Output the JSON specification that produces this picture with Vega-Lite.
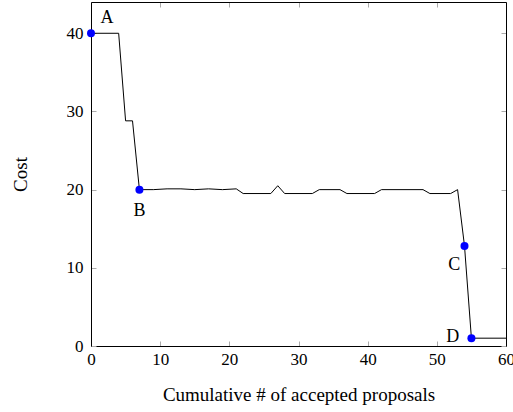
{
  "$schema": "https://vega.github.io/schema/vega-lite/v6.json",
  "width": 415,
  "height": 344,
  "autosize": {"type": "none"},
  "padding": {"left": 91, "top": 2, "right": 7, "bottom": 66},
  "background": "white",
  "config": {
    "view": {"stroke": null},
    "font": "Liberation Serif",
    "text": {"font": "Liberation Serif"},
    "axis": {
      "labelFont": "Liberation Serif",
      "titleFont": "Liberation Serif",
      "labelFontSize": 17,
      "titleFontSize": 19,
      "labelColor": "black",
      "titleColor": "black",
      "titleFontWeight": "normal",
      "domainColor": "black",
      "domainWidth": 1,
      "tickColor": "#aaaaaa",
      "tickSize": -5,
      "tickWidth": 1,
      "grid": false
    }
  },
  "datasets": {
    "line": [
      {"x": 0, "cost": 40}, {"x": 4, "cost": 40}, {"x": 5, "cost": 28.8}, {"x": 6, "cost": 28.8},
      {"x": 7, "cost": 20}, {"x": 9, "cost": 20}, {"x": 11, "cost": 20.1}, {"x": 13, "cost": 20.1},
      {"x": 15, "cost": 20}, {"x": 17, "cost": 20.1}, {"x": 19, "cost": 20}, {"x": 21, "cost": 20.1},
      {"x": 22, "cost": 19.5}, {"x": 26, "cost": 19.5}, {"x": 27, "cost": 20.5}, {"x": 28, "cost": 19.5},
      {"x": 32, "cost": 19.5}, {"x": 33, "cost": 20}, {"x": 36, "cost": 20}, {"x": 37, "cost": 19.5},
      {"x": 41, "cost": 19.5}, {"x": 42, "cost": 20}, {"x": 48, "cost": 20}, {"x": 49, "cost": 19.5},
      {"x": 52, "cost": 19.5}, {"x": 53, "cost": 20}, {"x": 54, "cost": 12.8}, {"x": 55, "cost": 1},
      {"x": 60, "cost": 1}
    ],
    "points": [
      {"x": 0, "cost": 40, "label": "A", "lx": 2.3, "ly": 41.9},
      {"x": 7, "cost": 20, "label": "B", "lx": 7, "ly": 17.3},
      {"x": 54, "cost": 12.8, "label": "C", "lx": 52.5, "ly": 10.4},
      {"x": 55, "cost": 1, "label": "D", "lx": 52.3, "ly": 1.1}
    ]
  },
  "resolve": {"axis": {"x": "independent", "y": "independent"}},
  "layer": [
    {
      "data": {"name": "line"},
      "mark": {"type": "line", "color": "black", "strokeWidth": 1, "clip": true},
      "encoding": {
        "x": {"field": "x", "type": "quantitative", "scale": {"domain": [0, 60], "nice": false},
              "axis": {"orient": "bottom", "values": [0, 10, 20, 30, 40, 50, 60], "title": "Cumulative # of accepted proposals", "labelFont": "Liberation Serif", "titleFont": "Liberation Serif", "labelPadding": 10, "titlePadding": 18, "labelFlush": false}},
        "y": {"field": "cost", "type": "quantitative", "scale": {"domain": [0, 44], "nice": false},
              "axis": {"orient": "left", "values": [0, 10, 20, 30, 40], "title": "Cost", "labelFont": "Liberation Serif", "titleFont": "Liberation Serif", "labelPadding": 13, "titlePadding": 36, "labelFlush": false}}
      }
    },
    {
      "data": {"name": "points"},
      "mark": {"type": "circle", "color": "#0000ff", "opacity": 1, "size": 64},
      "encoding": {
        "x": {"field": "x", "type": "quantitative", "axis": {"orient": "top", "values": [0, 10, 20, 30, 40, 50, 60], "labels": false, "title": null}},
        "y": {"field": "cost", "type": "quantitative", "axis": {"orient": "right", "values": [0, 10, 20, 30, 40], "labels": false, "title": null}}
      }
    },
    {
      "data": {"name": "points"},
      "mark": {"type": "text", "fontSize": 18, "font": "Liberation Serif", "color": "black", "align": "center", "baseline": "middle"},
      "encoding": {
        "x": {"field": "lx", "type": "quantitative", "axis": null},
        "y": {"field": "ly", "type": "quantitative", "axis": null},
        "text": {"field": "label"}
      }
    }
  ]
}
